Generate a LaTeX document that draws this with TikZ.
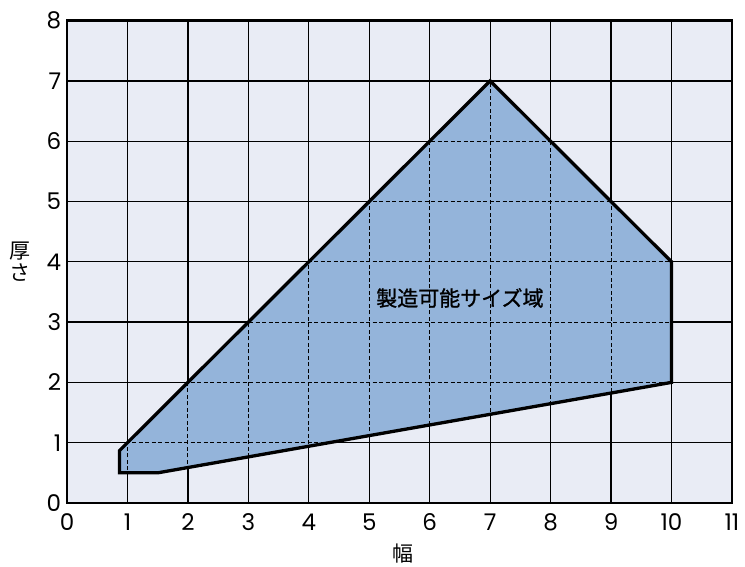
\documentclass[tikz,border=0pt]{standalone}
\usepackage{fontspec}
\setmainfont{Noto Sans CJK JP}
\newfontfamily\digitfont{Poppins}
\newfontfamily\regfont[FakeBold=1.2]{Noto Sans CJK JP}
\definecolor{bgcol}{HTML}{E9ECF5}
\definecolor{regcol}{HTML}{94B4DA}
\begin{document}
\begin{tikzpicture}[x=60.45pt,y=60.3pt,
  gridline/.style={line width=1.3pt,black},
  gridd/.style={line width=1pt,black,dash pattern=on 4pt off 2.5pt},
  frame/.style={line width=2.8pt,black},
  outline/.style={line width=3.3pt,black,line join=miter},
  tick/.style={font=\digitfont\fontsize{23}{24}\selectfont,inner sep=2pt},
  lbl/.style={font=\fontsize{21}{22}\selectfont}]
\useasboundingbox (-67pt,-64pt) rectangle (678pt,503pt);
\fill[bgcol] (0,0) rectangle (11,8);
\foreach \i in {1,...,10} \draw[gridline] (\i,0) -- (\i,8);
\foreach \j in {1,...,7} \draw[gridline] (0,\j) -- (11,\j);
% region
\coordinate (p1) at (0.87,0.5);
\coordinate (p2) at (1.5,0.5);
\coordinate (p3) at (10,2);
\coordinate (p4) at (10,4);
\coordinate (p5) at (7,7);
\coordinate (p6) at (0.87,0.87);
\fill[regcol] (p1) -- (p2) -- (p3) -- (p4) -- (p5) -- (p6) -- cycle;
\begin{scope}
\clip (p1) -- (p2) -- (p3) -- (p4) -- (p5) -- (p6) -- cycle;
\foreach \i in {1,...,10} \draw[gridd] (\i,0) -- (\i,8);
\foreach \j in {1,...,7} \draw[gridd] (0,\j) -- (11,\j);
\end{scope}
\draw[outline] (p1) -- (p2) -- (p3) -- (p4) -- (p5) -- (p6) -- cycle;
\draw[frame] (0,0) rectangle (11,8);
% ticks
\foreach \i in {0,...,11} \node[tick] (xt\i) at (\i,-0.32) {\i};
\foreach \j in {0,...,8} \node[tick,anchor=east] (yt\j) at (-0.06,\j) {\j};
\node[lbl] (xlab) at (5.55,-0.84) {幅};
\node[lbl,align=center] (ylab) at (-0.78,4) {厚\\さ};
\node[lbl,font=\regfont\fontsize{21}{22}\selectfont] (reg) at (6.5,3.4) {製造可能サイズ域};
\end{tikzpicture}
\end{document}
